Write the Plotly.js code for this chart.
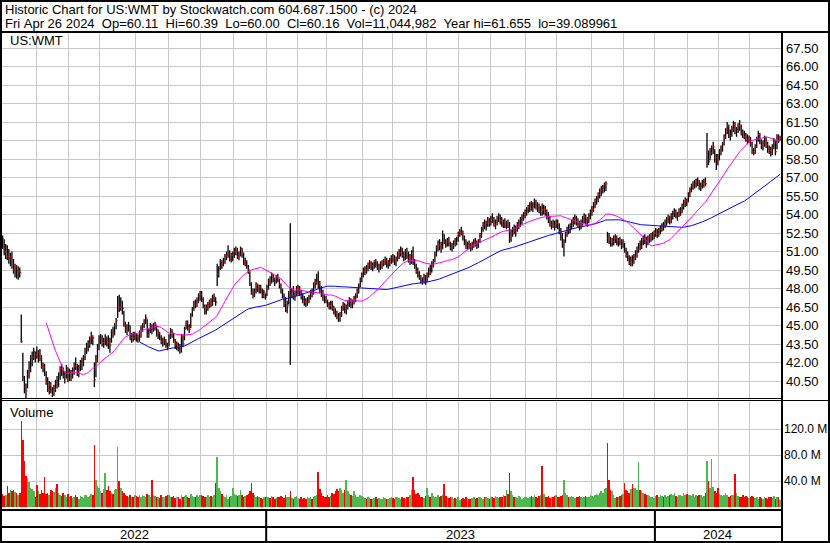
<!DOCTYPE html>
<html>
<head>
<meta charset="utf-8">
<script src="https://cdn.plot.ly/plotly-3.0.1.min.js"></script>
<style>
  html, body { margin: 0; padding: 0; background: #fff; }
  #chart { width: 830px; height: 543px; }
</style>
</head>
<body>
<div id="chart"></div>
<script>
// Trading days in each month shown, Apr 29 2022 .. Apr 26 2024
const monthDays = [1, 21, 21, 20, 23, 21, 21, 21, 21,
                   20, 19, 23, 19, 22, 21, 20, 23, 20, 22, 21, 20,
                   21, 20, 20, 20];
const yearNames = ['2022', '2023', '2024'];
const monthsInYear = [9, 12, 4];

const priorClose = 52.6;

// Daily closes
const closes = [
  52.0,
  51.0, 51.2, 50.6, 50.4, 50.6, 49.9, 49.5, 49.8, 49.1, 49.4, 49.3, 43.7, 40.8, 40.0, 39.7, 41.0, 41.4, 42.3, 42.4, 42.9, 42.6,
  42.5, 42.8, 42.3, 41.7, 41.6, 41.0, 40.4, 39.9, 40.2, 39.7, 39.4, 39.9, 40.3, 40.1, 40.8, 41.5, 41.3, 40.9, 41.1, 41.6, 40.6,
  41.2, 40.8, 41.4, 41.7, 41.6, 41.2, 41.6, 41.9, 42.1, 42.4, 43.0, 43.2, 43.5, 43.9, 44.1, 44.0, 40.6, 42.2, 43.2, 44.0,
  44.0, 43.6, 43.7, 44.0, 43.8, 43.6, 43.4, 44.5, 44.3, 45.0, 45.4, 46.6, 46.5, 46.9, 46.4, 45.1, 44.7, 44.6, 45.0, 44.0, 44.2, 44.0, 44.2,
  44.1, 44.0, 44.3, 44.8, 45.0, 45.3, 45.6, 44.2, 44.6, 45.0, 44.7, 45.0, 45.1, 44.2, 44.4, 44.0, 43.7, 43.8, 43.8, 43.4, 43.2,
  44.1, 44.6, 44.4, 43.8, 43.5, 43.5, 43.3, 43.2, 44.1, 43.5, 44.7, 45.2, 44.9, 44.7, 45.9, 46.3, 46.8, 46.7, 47.0, 47.4, 47.5,
  47.1, 46.5, 46.1, 46.4, 46.7, 46.9, 46.8, 47.2, 47.3, 46.9, 49.2, 49.6, 50.2, 49.9, 50.1, 50.6, 50.7, 50.8, 50.4, 50.7, 50.8,
  51.0, 51.1, 50.6, 50.8, 51.2, 50.9, 50.1, 50.2, 49.8, 49.5, 48.4, 47.7, 47.4, 47.7, 48.3, 48.0, 48.1, 47.9, 47.4, 47.7, 47.3,
  48.0, 48.6, 48.5, 49.1, 48.8, 48.6, 48.9, 48.7, 48.3, 47.9, 47.5, 46.8, 46.3, 46.6, 47.5, 47.4, 47.8, 47.4, 47.6, 48.0,
  48.0, 47.7, 47.4, 47.1, 46.9, 46.8, 47.0, 47.3, 47.7, 47.6, 48.3, 48.5, 48.9, 48.4, 47.9, 47.6, 47.3, 47.1, 47.0,
  46.7, 46.6, 46.8, 46.4, 46.1, 46.0, 45.7, 45.6, 45.9, 46.4, 46.6, 46.3, 46.5, 46.8, 47.1, 46.7, 46.9, 47.2, 47.4, 47.8, 48.2, 48.7, 49.1,
  49.4, 49.6, 49.5, 49.9, 50.1, 49.8, 49.9, 50.2, 50.0, 49.7, 49.8, 50.0, 50.1, 50.2, 50.3, 49.9, 50.1, 50.3, 50.5,
  50.4, 50.2, 50.4, 50.8, 50.9, 51.1, 50.7, 50.5, 51.0, 50.6, 50.3, 50.4, 50.6, 50.2, 49.8, 49.4, 49.1, 48.9, 48.6, 48.5, 49.0, 48.6,
  49.1, 49.5, 49.3, 50.0, 50.2, 50.8, 51.3, 51.6, 51.4, 51.2, 52.3, 51.8, 51.7, 51.9, 51.6, 51.3, 51.5, 51.8, 51.7, 52.0, 52.4,
  52.6, 52.5, 52.1, 51.7, 51.5, 51.6, 51.4, 51.3, 51.6, 51.8, 51.7, 51.5, 51.9, 52.3, 52.8, 53.2, 53.1, 53.3, 53.5, 53.3,
  53.7, 53.6, 53.2, 53.4, 53.8, 53.9, 53.5, 53.2, 53.4, 53.1, 53.3, 53.0, 52.0, 52.5, 52.8, 52.6, 52.9, 53.2, 53.4, 53.6, 53.8, 54.1, 54.2,
  54.4, 54.6, 54.8, 54.5, 54.9, 55.1, 54.7, 54.6, 54.3, 54.5, 54.4, 54.5, 54.2, 53.8, 53.6, 53.2, 53.3, 53.1, 53.0, 53.3,
  53.1, 52.6, 52.2, 51.6, 51.8, 52.4, 52.8, 52.7, 53.1, 53.4, 53.5, 53.7, 53.4, 53.2, 53.0, 53.3, 53.6, 53.8, 53.5, 53.6, 53.9, 54.2,
  54.5, 54.8, 55.1, 55.3, 55.6, 55.9, 56.0, 56.2, 56.4, 56.5, 52.1, 51.9, 51.6, 51.8, 52.0, 52.1, 51.7, 51.9, 51.8, 51.5, 51.8,
  51.1, 50.7, 50.4, 50.1, 50.3, 50.0, 50.6, 50.8, 51.2, 51.5, 51.4, 51.8, 52.0, 51.9, 51.6, 52.1, 52.2, 52.3, 52.4, 52.5,
  52.7, 52.4, 52.6, 52.8, 53.1, 53.0, 53.4, 53.6, 53.8, 53.5, 53.9, 54.1, 54.2, 53.9, 54.0, 54.3, 54.4, 54.7, 55.0, 55.1, 55.0,
  55.6, 56.0, 56.3, 56.4, 56.5, 56.7, 56.6, 56.2, 56.3, 56.5, 56.6, 56.5, 58.5, 58.3, 59.0, 59.3, 59.5, 58.8, 58.6, 58.4,
  59.1, 59.4, 59.7, 60.3, 60.8, 61.2, 60.5, 60.4, 61.0, 61.3, 60.8, 60.9, 61.2, 61.1, 60.6, 60.5, 60.3, 60.2, 60.0, 60.2,
  59.8, 59.1, 59.0, 59.5, 60.1, 60.5, 59.9, 59.6, 59.8, 60.2, 59.7, 59.3, 59.2, 59.0, 59.4, 59.9, 59.1, 60.3, 60.0, 60.16
];

// Daily highs
const highs = [
  52.3,
  52.0, 51.6, 51.5, 51.2, 50.9, 51.0, 50.4, 50.0, 49.9, 49.8, 49.7, 45.9, 42.8, 40.9, 40.3, 41.4, 42.1, 42.6, 42.9, 43.2, 42.9,
  43.3, 43.0, 43.1, 42.6, 42.0, 41.9, 41.3, 40.8, 40.5, 40.4, 40.0, 40.2, 40.6, 40.9, 41.2, 41.7, 41.9, 41.6, 41.3, 41.8, 41.6,
  41.5, 41.4, 41.6, 42.0, 42.4, 41.9, 41.8, 42.2, 42.4, 42.6, 43.2, 43.6, 43.8, 44.1, 44.5, 44.2, 42.0, 42.6, 43.5, 44.2,
  44.3, 44.2, 44.0, 44.3, 44.1, 44.2, 44.0, 44.7, 44.9, 45.2, 45.6, 47.4, 47.5, 47.3, 47.0, 46.2, 45.3, 45.1, 45.3, 45.0, 44.4, 44.5, 44.5,
  44.4, 44.3, 44.6, 45.0, 45.2, 45.5, 45.9, 45.5, 44.8, 45.2, 45.1, 45.2, 45.3, 45.0, 44.7, 44.5, 44.2, 44.0, 44.1, 43.9, 43.6,
  44.3, 44.8, 44.7, 44.4, 43.9, 43.7, 43.6, 43.5, 44.3, 44.3, 44.9, 45.4, 45.4, 45.1, 46.0, 46.5, 47.0, 47.1, 47.3, 47.6, 47.8,
  47.8, 47.3, 46.7, 46.7, 46.9, 47.1, 47.2, 47.5, 47.6, 47.3, 50.0, 49.8, 50.4, 50.3, 50.5, 50.8, 51.0, 51.5, 51.1, 50.9, 51.0,
  51.3, 51.4, 51.3, 51.0, 51.4, 51.3, 50.9, 50.5, 50.3, 49.9, 49.4, 48.5, 48.0, 48.0, 48.5, 48.4, 48.3, 48.3, 48.0, 47.9, 47.6,
  48.3, 48.8, 49.0, 49.3, 49.2, 48.9, 49.1, 49.2, 48.8, 48.4, 48.0, 47.6, 47.3, 47.0, 47.8, 53.3, 48.0, 48.2, 47.8, 48.2,
  48.3, 48.2, 47.9, 47.6, 47.4, 47.2, 47.3, 47.5, 47.9, 48.0, 48.5, 48.8, 49.2, 49.4, 48.6, 48.2, 47.9, 47.5, 47.4,
  47.1, 46.9, 47.0, 47.0, 46.6, 46.4, 46.2, 46.0, 46.1, 46.6, 46.9, 46.8, 46.7, 47.0, 47.3, 47.2, 47.1, 47.4, 47.6, 48.0, 48.4, 48.9, 49.3,
  49.7, 49.8, 49.9, 50.1, 50.3, 50.2, 50.1, 50.3, 50.4, 50.2, 50.0, 50.2, 50.3, 50.4, 50.6, 50.5, 50.3, 50.5, 50.7,
  50.8, 50.7, 50.6, 51.0, 51.2, 51.4, 51.3, 51.0, 51.2, 51.3, 51.0, 50.8, 51.1, 51.4, 50.4, 50.0, 49.7, 49.4, 49.1, 48.9, 49.2, 49.1,
  49.3, 49.7, 49.9, 50.2, 50.4, 51.0, 51.5, 51.9, 52.0, 51.8, 52.7, 52.4, 52.0, 52.1, 52.2, 51.8, 51.7, 51.9, 52.1, 52.2, 52.6,
  52.8, 53.0, 52.7, 52.3, 52.0, 51.8, 51.9, 51.7, 51.8, 52.0, 52.1, 51.9, 52.0, 52.5, 53.0, 53.4, 53.6, 53.5, 53.8, 53.7,
  53.9, 54.1, 53.8, 53.6, 53.9, 54.1, 54.0, 53.8, 53.6, 53.7, 53.5, 53.6, 53.4, 52.8, 53.0, 53.2, 53.1, 53.4, 53.6, 53.8, 54.0, 54.2, 54.4,
  54.6, 54.8, 55.0, 55.1, 55.0, 55.3, 55.2, 55.0, 54.9, 54.7, 54.9, 54.8, 54.7, 54.4, 54.2, 53.9, 53.5, 53.6, 53.5, 53.6,
  53.6, 53.3, 52.9, 52.5, 52.0, 52.6, 53.0, 53.2, 53.3, 53.6, 53.8, 54.0, 53.9, 53.7, 53.5, 53.6, 53.9, 54.1, 54.0, 53.8, 54.1, 54.4,
  54.7, 55.0, 55.3, 55.5, 55.8, 56.1, 56.3, 56.4, 56.6, 56.7, 52.6, 52.5, 52.2, 52.1, 52.3, 52.4, 52.3, 52.1, 52.2, 52.0, 52.0,
  51.7, 51.3, 51.0, 50.7, 50.6, 50.7, 50.8, 51.1, 51.4, 51.7, 51.9, 52.1, 52.3, 52.4, 52.2, 52.3, 52.4, 52.5, 52.6, 52.7,
  52.9, 52.8, 52.9, 53.1, 53.3, 53.4, 53.6, 53.8, 54.0, 53.9, 54.1, 54.3, 54.5, 54.4, 54.2, 54.5, 54.6, 54.9, 55.2, 55.4, 55.3,
  55.8, 56.2, 56.5, 56.7, 56.8, 56.9, 57.0, 56.8, 56.6, 56.8, 56.9, 57.0, 60.6, 59.2, 59.4, 59.6, 59.9, 59.3, 58.9, 58.9,
  59.3, 59.6, 59.9, 60.5, 61.0, 61.5, 61.3, 60.9, 61.2, 61.6, 61.5, 61.1, 61.4, 61.655, 61.3, 60.9, 60.8, 60.6, 60.5, 60.4,
  60.3, 59.9, 59.4, 59.7, 60.3, 60.8, 60.6, 60.1, 60.0, 60.4, 60.3, 59.9, 59.6, 59.5, 59.7, 60.2, 60.0, 60.5, 60.5, 60.39
];

// Daily lows
const lows = [
  51.2,
  50.7, 50.4, 50.3, 50.0, 49.8, 49.6, 49.2, 48.9, 48.8, 48.7, 48.9, 43.6, 40.5, 39.5, 39.089961, 39.9, 40.7, 41.2, 41.7, 42.2, 42.0,
  42.3, 42.0, 42.1, 41.5, 41.2, 40.9, 40.2, 39.6, 39.4, 39.5, 39.2, 39.3, 39.6, 39.9, 40.0, 40.6, 40.9, 40.7, 40.3, 40.7, 40.4,
  40.5, 40.5, 40.7, 41.0, 41.4, 40.9, 40.8, 41.3, 41.4, 41.7, 42.2, 42.7, 42.9, 43.2, 43.5, 43.4, 40.0, 40.8, 42.0, 43.0,
  43.5, 43.3, 43.2, 43.4, 43.3, 43.1, 42.8, 43.6, 44.0, 44.2, 44.7, 45.6, 46.1, 46.2, 45.9, 44.9, 44.4, 44.2, 44.5, 43.8, 43.6, 43.7, 43.8,
  43.7, 43.6, 43.7, 44.0, 44.5, 44.8, 45.1, 44.0, 44.0, 44.4, 44.3, 44.5, 44.6, 44.1, 43.9, 43.8, 43.5, 43.3, 43.4, 43.2, 43.0,
  43.3, 43.9, 44.0, 43.6, 43.1, 43.0, 42.9, 42.7, 42.8, 43.3, 43.8, 44.7, 44.6, 44.4, 44.8, 45.7, 46.2, 46.4, 46.5, 46.8, 47.0,
  46.9, 46.4, 45.9, 45.9, 46.2, 46.4, 46.5, 46.6, 46.9, 46.6, 48.2, 48.9, 49.5, 49.6, 49.8, 50.0, 50.3, 50.5, 50.2, 50.1, 50.2,
  50.5, 50.7, 50.4, 50.3, 50.6, 50.5, 49.9, 49.8, 49.6, 49.2, 48.2, 47.5, 47.2, 47.3, 47.6, 47.7, 47.6, 47.6, 47.2, 47.2, 47.1,
  47.4, 47.9, 48.2, 48.4, 48.5, 48.2, 48.4, 48.5, 48.0, 47.6, 47.2, 46.5, 46.1, 46.0, 46.7, 41.8, 47.2, 47.1, 47.0, 47.4,
  47.5, 47.4, 47.1, 46.8, 46.6, 46.5, 46.6, 46.8, 47.1, 47.3, 47.5, 48.0, 48.3, 48.0, 47.6, 47.3, 47.0, 46.8, 46.8,
  46.5, 46.3, 46.3, 46.2, 45.9, 45.7, 45.5, 45.3, 45.3, 45.7, 46.2, 46.0, 45.9, 46.3, 46.5, 46.4, 46.4, 46.7, 46.9, 47.2, 47.6, 48.1, 48.5,
  48.9, 49.1, 49.2, 49.4, 49.6, 49.5, 49.4, 49.6, 49.7, 49.5, 49.3, 49.5, 49.6, 49.8, 49.9, 49.7, 49.6, 49.8, 50.0,
  50.1, 49.9, 49.8, 50.2, 50.4, 50.6, 50.5, 50.2, 50.3, 50.4, 50.1, 49.9, 50.0, 49.9, 49.6, 49.2, 48.9, 48.7, 48.4, 48.3, 48.4, 48.3,
  48.5, 48.9, 49.1, 49.3, 49.7, 50.1, 50.6, 51.0, 51.1, 50.9, 51.2, 51.6, 51.3, 51.4, 51.4, 51.1, 51.0, 51.2, 51.4, 51.5, 51.8,
  52.2, 52.3, 51.9, 51.5, 51.2, 51.1, 51.2, 51.0, 51.1, 51.3, 51.4, 51.2, 51.3, 51.7, 52.1, 52.6, 52.8, 52.7, 53.0, 53.0,
  53.1, 53.3, 53.0, 52.8, 53.1, 53.4, 53.2, 53.0, 52.9, 52.9, 52.8, 52.9, 51.7, 51.8, 52.2, 52.4, 52.2, 52.6, 52.8, 53.0, 53.2, 53.5, 53.7,
  53.9, 54.1, 54.2, 54.3, 54.2, 54.5, 54.4, 54.2, 54.1, 53.9, 53.9, 54.0, 53.9, 53.6, 53.3, 53.0, 52.8, 52.9, 52.7, 52.9,
  52.8, 52.4, 51.9, 51.3, 50.6, 51.7, 52.2, 52.4, 52.5, 52.8, 53.0, 53.2, 53.1, 52.9, 52.7, 52.8, 53.1, 53.3, 53.2, 53.0, 53.3, 53.6,
  53.9, 54.2, 54.5, 54.8, 55.0, 55.3, 55.5, 55.7, 55.8, 55.9, 51.7, 51.6, 51.4, 51.4, 51.5, 51.7, 51.5, 51.4, 51.5, 51.2, 51.3,
  50.9, 50.5, 50.2, 49.9, 49.8, 49.8, 50.0, 50.3, 50.5, 50.9, 51.1, 51.2, 51.5, 51.6, 51.3, 51.5, 51.7, 51.8, 51.9, 52.0,
  52.2, 52.1, 52.2, 52.4, 52.6, 52.7, 52.9, 53.1, 53.3, 53.2, 53.3, 53.6, 53.8, 53.7, 53.5, 53.8, 53.9, 54.1, 54.4, 54.6, 54.7,
  55.0, 55.4, 55.8, 56.0, 56.1, 56.2, 56.3, 56.0, 55.9, 56.1, 56.2, 56.3, 57.8, 58.0, 58.4, 58.8, 58.9, 58.2, 57.6, 58.0,
  58.4, 58.8, 59.1, 59.6, 60.1, 60.5, 60.2, 60.0, 60.3, 60.7, 60.5, 60.3, 60.6, 60.8, 60.4, 60.2, 60.1, 59.9, 59.7, 59.8,
  59.5, 58.9, 58.8, 58.9, 59.4, 59.9, 59.7, 59.3, 59.2, 59.5, 59.4, 59.0, 58.9, 58.7, 58.8, 59.3, 58.8, 59.3, 59.8, 60.00
];

// Daily volume, millions of shares
const volumes = [
  20,
  17, 18, 32, 22, 26, 24, 26, 23, 21, 19, 22, 133, 104, 71, 48, 44, 38, 30, 28, 25, 16,
  34, 24, 20, 27, 21, 46, 20, 22, 19, 26, 25, 23, 29, 35, 21, 18, 17, 22, 19, 16, 20,
  15, 17, 14, 16, 18, 15, 13, 17, 16, 14, 19, 18, 15, 17, 20, 18, 95, 41, 32, 29,
  24, 21, 28, 52, 26, 33, 25, 22, 20, 26, 28, 92, 40, 30, 24, 22, 19, 17, 16, 18, 15, 16, 18,
  17, 15, 18, 16, 19, 17, 15, 20, 18, 16, 41, 19, 17, 15, 16, 14, 18, 16, 15, 17, 19,
  18, 16, 15, 17, 14, 16, 15, 13, 19, 16, 17, 18, 15, 14, 20, 17, 16, 15, 18, 16, 19,
  18, 17, 16, 15, 19, 16, 17, 15, 18, 37, 77, 30, 24, 20, 17, 16, 18, 12, 15, 17, 29,
  20, 18, 17, 19, 26, 18, 16, 17, 19, 20, 24, 37, 22, 18, 16, 17, 15, 14, 13, 15, 16,
  15, 16, 14, 17, 15, 13, 14, 16, 15, 17, 16, 14, 18, 15, 16, 24, 14, 13, 15, 17,
  14, 13, 15, 12, 14, 13, 15, 14, 16, 13, 15, 17, 19, 54, 28, 21, 17, 16, 15,
  18, 16, 17, 22, 20, 25, 28, 24, 30, 26, 22, 27, 41, 24, 20, 19, 17, 25, 18, 16, 15, 19, 17,
  16, 14, 13, 15, 14, 13, 12, 14, 15, 13, 14, 12, 13, 15, 14, 13, 12, 14, 16,
  14, 13, 15, 16, 14, 13, 15, 14, 13, 15, 16, 18, 26, 46, 26, 20, 21, 18, 16, 15, 14, 17,
  29, 18, 16, 22, 17, 15, 16, 18, 15, 17, 19, 35, 17, 15, 14, 16, 15, 13, 14, 12, 15,
  11, 13, 14, 13, 15, 14, 13, 12, 14, 15, 13, 14, 16, 15, 14, 13, 15, 16, 14, 13,
  15, 16, 14, 17, 15, 14, 16, 15, 18, 17, 26, 20, 52, 24, 18, 16, 15, 14, 17, 15, 13, 14, 16,
  15, 14, 16, 17, 15, 18, 16, 14, 17, 19, 63, 20, 16, 15, 17, 14, 15, 16, 17, 18,
  16, 15, 17, 19, 41, 22, 18, 16, 15, 17, 16, 14, 15, 16, 17, 15, 14, 16, 17, 15, 16, 18,
  17, 16, 18, 20, 19, 22, 24, 21, 28, 30, 98, 41, 27, 25, 18, 14, 16, 15, 17, 18, 20,
  37, 26, 24, 22, 28, 35, 29, 30, 26, 69, 27, 24, 22, 20, 18, 19, 17, 16, 15, 14,
  17, 18, 16, 19, 17, 15, 18, 16, 17, 19, 20, 18, 22, 17, 16, 18, 19, 17, 21, 18, 20,
  19, 18, 17, 20, 16, 18, 17, 19, 18, 16, 17, 21, 71, 40, 30, 74, 31, 24, 22, 29,
  20, 18, 17, 19, 21, 18, 16, 17, 19, 18, 51, 22, 17, 16, 15, 18, 16, 17, 15, 14,
  16, 17, 15, 14, 16, 13, 15, 14, 12, 15, 14, 13, 16, 15, 14, 17, 13, 16, 15, 11.044982
];

const priceTicks = [40.5, 42, 43.5, 45, 46.5, 48, 49.5, 51, 52.5, 54, 55.5, 57, 58.5, 60, 61.5, 63, 64.5, 66, 67.5];
const volumeTicks = [40, 80, 120];

const headerLine1 = 'Historic Chart for US:WMT by Stockwatch.com 604.687.1500 - (c) 2024';
const headerLine2 = 'Fri Apr 26 2024  Op=60.11  Hi=60.39  Lo=60.00  Cl=60.16  Vol=11,044,982  Year hi=61.655  lo=39.089961';
const symbolLabel = 'US:WMT';
const volumeLabel = 'Volume';

// Moving-average lengths (bars)
const maFast = 29;
const maSlow = 89;

// ---------- derived series ----------
const n = closes.length;
const idx = closes.map((_, i) => i);

function sma(values, len) {
  const out = [];
  let sum = 0;
  for (let i = 0; i < values.length; i++) {
    sum += values[i];
    if (i >= len) sum -= values[i - len];
    out.push(i >= len - 1 ? sum / len : null);
  }
  return out;
}

const monthStarts = [];
let acc = 0;
monthDays.forEach(d => { monthStarts.push(acc); acc += d; });
const monthGrid = monthStarts.filter(s => s > 1).map(s => s - 0.5);

const yearStarts = [];
let m = 0;
monthsInYear.forEach(c => { yearStarts.push(monthStarts[m]); m += c; });
const yearEnds = yearStarts.slice(1).concat([n]);

// high-low bars as one broken polyline
const hlX = [], hlY = [];
for (let i = 0; i < n; i++) {
  hlX.push(i, i, null);
  hlY.push(lows[i], highs[i], null);
}

const UP = '#4db84d', DOWN = '#ff0000', FLAT = '#a0a0a0';
const volColors = closes.map((c, i) => {
  const p = i ? closes[i - 1] : priorClose;
  return c > p ? UP : (c < p ? DOWN : FLAT);
});

// ---------- geometry helpers (pixels -> paper) ----------
const W = 830, H = 543;
const px = v => v / W;
const py = v => 1 - v / H;
const FONT = '"Liberation Sans", Arial, Helvetica, sans-serif';
const GRID = '#c8c8c8';

const traces = [
  { type: 'scatter', mode: 'lines', x: hlX, y: hlY, xaxis: 'x', yaxis: 'y',
    line: { color: '#000000', width: 1.3 }, hoverinfo: 'skip', connectgaps: false },
  { type: 'scatter', mode: 'lines', x: idx, y: sma(closes, maSlow), xaxis: 'x', yaxis: 'y',
    line: { color: '#0000ff', width: 1 }, hoverinfo: 'skip' },
  { type: 'scatter', mode: 'lines', x: idx, y: sma(closes, maFast), xaxis: 'x', yaxis: 'y',
    line: { color: '#ff00ff', width: 1 }, hoverinfo: 'skip' },
  { type: 'scatter', mode: 'markers', x: idx.map(i => i + 0.5), y: closes, xaxis: 'x', yaxis: 'y',
    marker: { symbol: 'square', size: 1.4, color: '#ff0000', line: { width: 0 } }, hoverinfo: 'skip' },
  { type: 'bar', x: idx, y: volumes, xaxis: 'x2', yaxis: 'y2', width: 1,
    marker: { color: volColors, line: { width: 0 } }, hoverinfo: 'skip' }
];

const xRange = [-0.4, 500.6];
const xBase = {
  domain: [px(2), px(781)], range: xRange, tickmode: 'array', tickvals: monthGrid,
  showticklabels: false, ticks: '', showgrid: true, gridcolor: GRID, gridwidth: 1,
  zeroline: false, showline: false, fixedrange: true
};

const hline = (y, x0, x1, w) => ({ type: 'line', xref: 'paper', yref: 'paper',
  x0: px(x0), x1: px(x1), y0: py(y), y1: py(y), line: { color: '#000', width: w }, layer: 'above' });
const vline = (x, y0, y1, w) => ({ type: 'line', xref: 'paper', yref: 'paper',
  x0: px(x), x1: px(x), y0: py(y0), y1: py(y1), line: { color: '#000', width: w }, layer: 'above' });

const shapes = [
  { type: 'rect', xref: 'paper', yref: 'paper', x0: px(1), x1: px(829), y0: py(542), y1: py(1),
    line: { color: '#000', width: 2 }, layer: 'above' },
  hline(32, 0, 830, 2),
  vline(782, 32, 543, 2),
  hline(398.5, 0, 781, 1),
  hline(400.5, 0, 830, 1),
  hline(510, 0, 781, 2),
  hline(527, 0, 781, 2)
];
yearStarts.slice(1).forEach(s => {
  shapes.push({ type: 'line', xref: 'x', yref: 'paper', x0: s - 0.5, x1: s - 0.5,
    y0: py(542), y1: py(510), line: { color: '#000', width: 2 }, layer: 'above' });
});

const nb = s => s.replace(/ /g, '\u00a0');
const txt = (text, x, y) => ({ text: nb(text), xref: 'paper', yref: 'paper', x: px(x), y: py(y),
  xanchor: 'left', yanchor: 'middle', showarrow: false, font: { family: FONT, size: 13, color: '#000' } });

const annotations = [
  txt(headerLine1, 3, 10),
  txt(headerLine2, 3, 23.5),
  txt(symbolLabel, 8, 40.5),
  txt(volumeLabel, 8, 412.5)
];
yearNames.forEach((name, k) => {
  annotations.push({ text: name, xref: 'x', yref: 'paper',
    x: (yearStarts[k] - 0.5 + Math.min(yearEnds[k] - 0.5, xRange[1])) / 2, y: py(534.5),
    xanchor: 'center', yanchor: 'middle', showarrow: false,
    font: { family: FONT, size: 13, color: '#000' } });
});

const layout = {
  width: W, height: H,
  margin: { l: 0, r: 0, t: 0, b: 0, pad: 0 },
  paper_bgcolor: '#ffffff', plot_bgcolor: '#ffffff',
  showlegend: false,
  font: { family: FONT, size: 13, color: '#000' },
  xaxis: Object.assign({}, xBase, { anchor: 'y' }),
  xaxis2: Object.assign({}, xBase, { anchor: 'y2', matches: 'x' }),
  yaxis: {
    domain: [py(399), py(32)], range: [39.04, 68.80], side: 'right', anchor: 'x',
    tickmode: 'array', tickvals: priceTicks, tickformat: '.2f', ticks: '',
    showgrid: true, gridcolor: GRID, gridwidth: 1, zeroline: false, showline: false,
    tickfont: { family: FONT, size: 13, color: '#000' }, ticklabelstandoff: 4, fixedrange: true
  },
  yaxis2: {
    domain: [py(507), py(402)], range: [0, 162], side: 'right', anchor: 'x2',
    tickmode: 'array', tickvals: volumeTicks, ticktext: volumeTicks.map(v => v.toFixed(1) + ' M'),
    ticks: '', showgrid: true, gridcolor: GRID, gridwidth: 1, zeroline: false, showline: false,
    tickfont: { family: FONT, size: 12, color: '#000' }, ticklabelstandoff: 2, fixedrange: true
  },
  bargap: 0,
  shapes: shapes,
  annotations: annotations
};

Plotly.newPlot('chart', traces, layout, { displayModeBar: false, staticPlot: true });
</script>
</body>
</html>
